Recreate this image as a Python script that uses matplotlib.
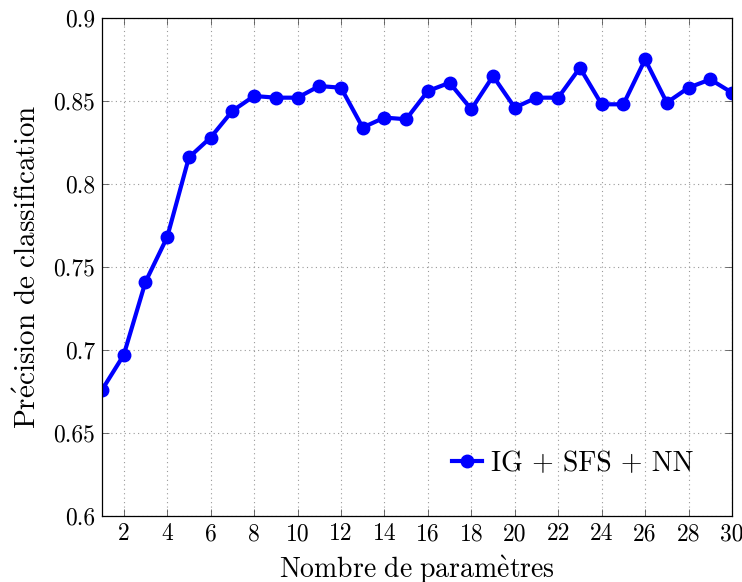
import matplotlib
matplotlib.use('Agg')
import matplotlib.pyplot as plt

# Data
n_params = list(range(1, 31))
precision = [0.676, 0.697, 0.741, 0.768, 0.816, 0.828, 0.844, 0.853, 0.852, 0.852,
             0.859, 0.858, 0.834, 0.840, 0.839, 0.856, 0.861, 0.845, 0.865, 0.846,
             0.852, 0.852, 0.870, 0.848, 0.848, 0.875, 0.849, 0.858, 0.863, 0.855]
x_ticks = list(range(2, 31, 2))
y_ticks = [0.6, 0.65, 0.7, 0.75, 0.8, 0.85, 0.9]
y_tick_labels = ['0.6', '0.65', '0.7', '0.75', '0.8', '0.85', '0.9']

plt.rcParams['font.family'] = 'serif'
plt.rcParams['font.serif'] = ['cmr10']
plt.rcParams['mathtext.fontset'] = 'cm'
plt.rcParams['axes.unicode_minus'] = False

fig = plt.figure(figsize=(7.42, 5.82), dpi=100)
ax = fig.add_axes([0.1375, 0.1134, 0.849, 0.8557])

ax.plot(n_params, precision, color='blue', linewidth=3, marker='o', markersize=9,
        label='IG + SFS + NN')

ax.set_xlim(1, 30)
ax.set_ylim(0.6, 0.9)
ax.set_xticks(x_ticks)
ax.set_yticks(y_ticks)
ax.set_yticklabels(y_tick_labels)
ax.tick_params(direction='in', top=True, right=True, labelsize=17, length=5,
               width=0.6, color='#555555', pad=5)

ax.grid(True, linestyle=(0, (1, 3)), color='#999999', linewidth=0.8)
for s in ax.spines.values():
    s.set_linewidth(0.9)

ax.set_xlabel(r"$\mathrm{Nombre\ de\ param\`etres}$", fontsize=20, labelpad=6)
ax.set_ylabel(r"$\mathrm{Pr\'ecision\ de\ classification}$", fontsize=21, labelpad=8)

ax.legend(loc='lower right', frameon=False, fontsize=20, handlelength=1.1,
          handletextpad=0.3, borderaxespad=1.0)

fig.savefig('out.png', dpi=100)
